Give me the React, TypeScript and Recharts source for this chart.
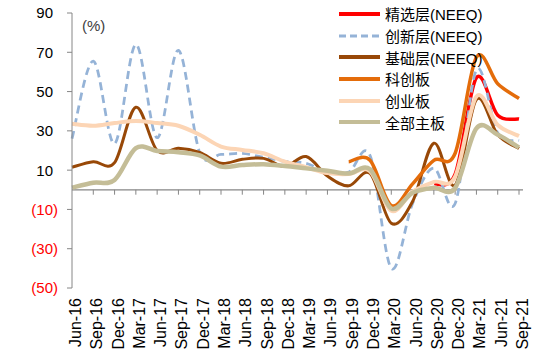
import React from 'react';
import { LineChart, Line, XAxis, YAxis, ReferenceLine } from 'recharts';

const months = [
  'Jun-16', 'Sep-16', 'Dec-16', 'Mar-17', 'Jun-17', 'Sep-17', 'Dec-17', 'Mar-18', 'Jun-18', 'Sep-18', 'Dec-18',
  'Mar-19', 'Jun-19', 'Sep-19', 'Dec-19', 'Mar-20', 'Jun-20', 'Sep-20', 'Dec-20', 'Mar-21', 'Jun-21', 'Sep-21',
];

const selectTier = [null, null, null, null, null, null, null, null, null, null, null, null, null, null, null, null, null, 3, 8, 57, 38, 36];
const innovationTier = [26, 65.5, 23.5, 74, 26.5, 71, 19, 18, 18.5, 16.5, 14.5, 13.5, 9, 9, 17.5, -40, -7, 11, -7, 61, 29, 25];
const basicTier = [11.5, 14.3, 13.8, 42, 20, 21.2, 19, 13.5, 15.5, 16, 11.8, 16.9, 7, 2, 8.3, -17, -6, 23.7, 2.4, 46, 28, 21];
const starMarket = [null, null, null, null, null, null, null, null, null, null, null, null, null, 14.3, 15, -8, 3, 15, 18.6, 67.5, 54, 46.5];
const chinext = [33.6, 32.6, 34, 35, 34, 32.6, 28, 22, 20.3, 18.6, 14.3, 11.5, 8.5, 8, 9.5, -10.7, -1, 4, 6.7, 47.5, 33, 27.4];
const mainBoard = [1.1, 3.6, 5, 21.2, 19.8, 19.1, 17.5, 11.8, 12.6, 13, 12.1, 10.9, 9.7, 8.3, 10.4, -9.5, -1.5, 1, 1, 31.3, 28, 21.5];

const yTicks = [90, 70, 50, 30, 10, -10, -30, -50];

const series = [
  { key: 'select', name: '精选层(NEEQ)', color: '#FF0000', width: 3.5, dash: undefined },
  { key: 'innovation', name: '创新层(NEEQ)', color: '#95B3D7', width: 2.75, dash: '8 5' },
  { key: 'basic', name: '基础层(NEEQ)', color: '#984807', width: 3, dash: undefined },
  { key: 'star', name: '科创板', color: '#E46C0A', width: 3.5, dash: undefined },
  { key: 'chinext', name: '创业板', color: '#FCD5B5', width: 4, dash: undefined },
  { key: 'main', name: '全部主板', color: '#C4BD97', width: 4.5, dash: undefined },
];

const data = months.map((m, i) => ({
  month: m,
  select: selectTier[i],
  innovation: innovationTier[i],
  basic: basicTier[i],
  star: starMarket[i],
  chinext: chinext[i],
  main: mainBoard[i],
}));

const FONT = '"Liberation Sans", Arial, "Noto Sans CJK SC", sans-serif';

// Excel-like smoothed line (uniform Catmull-Rom through the points)
const smoothCurve = (context: any) => {
  let pts: number[][] = [];
  return {
    areaStart() {},
    areaEnd() {},
    lineStart() {
      pts = [];
    },
    point(x: number, y: number) {
      pts.push([+x, +y]);
    },
    lineEnd() {
      const n = pts.length;
      if (n === 0) return;
      context.moveTo(pts[0][0], pts[0][1]);
      if (n === 1) {
        context.lineTo(pts[0][0], pts[0][1]);
        return;
      }
      for (let i = 0; i < n - 1; i++) {
        const p0 = pts[i === 0 ? 0 : i - 1];
        const p1 = pts[i];
        const p2 = pts[i + 1];
        const p3 = pts[i + 2 < n ? i + 2 : n - 1];
        context.bezierCurveTo(
          p1[0] + (p2[0] - p0[0]) / 6,
          p1[1] + (p2[1] - p0[1]) / 6,
          p2[0] - (p3[0] - p1[0]) / 6,
          p2[1] - (p3[1] - p1[1]) / 6,
          p2[0],
          p2[1]
        );
      }
    },
  };
};

const MonthTick = (props: any) => {
  const { x, payload } = props;
  return (
    <g transform={`translate(${x},298) rotate(-90)`}>
      <text x={0} y={0} dy={9} textAnchor="end" fontSize={16} fontFamily={FONT} fill="#000">
        {payload.value}
      </text>
    </g>
  );
};

const ValueTick = (props: any) => {
  const { x, y, payload } = props;
  const v = payload.value as number;
  const neg = v < 0;
  return (
    <text
      x={neg ? x : x - 5}
      y={y}
      dy="0.36em"
      textAnchor="end"
      fontSize={15}
      fontFamily={FONT}
      fill={neg ? '#FF0000' : '#000'}
    >
      {neg ? `(${Math.abs(v)})` : `${v}`}
    </text>
  );
};

export default function App() {
  return (
    <div style={{ position: 'absolute', left: 0, top: 0, width: 552, height: 364, background: '#fff' }}>
      <LineChart width={552} height={364} data={data} margin={{ top: 13, right: 29, bottom: 6, left: 12 }}>
        <XAxis
          dataKey="month"
          interval={0}
          axisLine={false}
          tickLine={false}
          height={70}
          padding={{ left: 0, right: 4 }}
          tick={<MonthTick />}
        />
        <YAxis
          domain={[-50, 90]}
          ticks={yTicks}
          interval={0}
          width={60}
          tickSize={5}
          tickMargin={9}
          stroke="#868686"
          tick={<ValueTick />}
        />
        <ReferenceLine y={0} stroke="#868686" strokeWidth={1.2} />
        {months.slice(1).map((m) => (
          <ReferenceLine
            key={m}
            segment={[{ x: m, y: 0 }, { x: m, y: -2.5 }]}
            stroke="#868686"
            strokeWidth={1}
          />
        ))}
        {series.map((s) => (
          <Line
            key={s.key}
            dataKey={s.key}
            name={s.name}
            type={smoothCurve as any}
            stroke={s.color}
            strokeWidth={s.width}
            strokeDasharray={s.dash}
            dot={false}
            activeDot={false}
            connectNulls={false}
            isAnimationActive={false}
          />
        ))}
      </LineChart>
      <div
        style={{
          position: 'absolute',
          left: 82,
          top: 17,
          fontFamily: FONT,
          fontSize: 15,
          color: '#404040',
        }}
      >
        (%)
      </div>
      <div style={{ position: 'absolute', left: 338, top: 3, fontFamily: FONT, fontSize: 15, color: '#000' }}>
        {series.map((s) => (
          <div key={s.key} style={{ display: 'flex', alignItems: 'center', height: 21.7 }}>
            <svg width={44} height={10} style={{ display: 'block' }}>
              <line
                x1={1}
                y1={5}
                x2={42}
                y2={5}
                stroke={s.color}
                strokeWidth={s.dash ? 3 : 4}
                strokeDasharray={s.dash ? '7 4' : undefined}
              />
            </svg>
            <span style={{ marginLeft: 3, whiteSpace: 'nowrap' }}>{s.name}</span>
          </div>
        ))}
      </div>
    </div>
  );
}
